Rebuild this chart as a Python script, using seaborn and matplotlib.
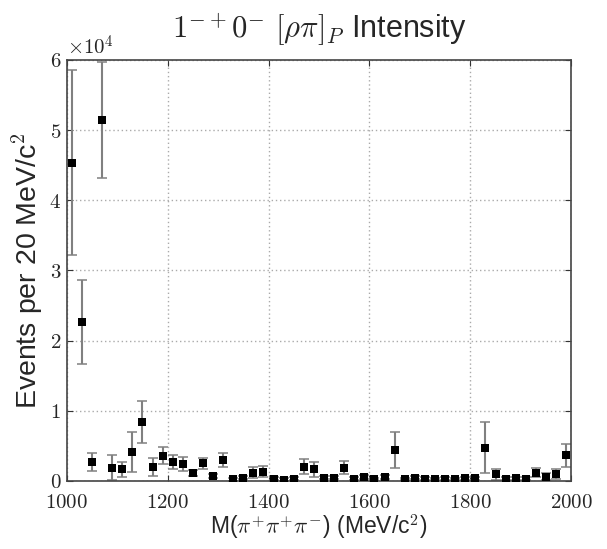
import matplotlib
matplotlib.use("Agg")
import matplotlib.pyplot as plt
import seaborn as sns
import numpy as np
import pandas as pd
from matplotlib.ticker import FuncFormatter, FixedLocator

# ---- data ----
mass = [1010, 1030, 1050, 1070, 1090, 1110, 1130, 1150, 1170, 1190,
        1210, 1230, 1250, 1270, 1290, 1310, 1330, 1350, 1370, 1390,
        1410, 1430, 1450, 1470, 1490, 1510, 1530, 1550, 1570, 1590,
        1610, 1630, 1650, 1670, 1690, 1710, 1730, 1750, 1770, 1790,
        1810, 1830, 1850, 1870, 1890, 1910, 1930, 1950, 1970, 1990]
events = [45350, 22650, 2700, 51400, 1900, 1650, 4100, 8400, 2000, 3600,
          2700, 2400, 1100, 2500, 700, 3000, 240, 480, 1200, 1300,
          340, 200, 300, 2050, 1660, 480, 480, 1900, 330, 570,
          240, 570, 4400, 240, 480, 330, 240, 330, 240, 400,
          400, 4750, 950, 330, 400, 330, 1200, 620, 1000, 3650]
errors = [13200, 6000, 1350, 8300, 1800, 1050, 2800, 3000, 1300, 1250,
          1050, 950, 400, 800, 300, 1000, 200, 250, 800, 800,
          200, 150, 200, 1050, 1100, 250, 250, 900, 200, 250,
          150, 250, 2500, 150, 250, 200, 150, 200, 150, 200,
          200, 3600, 800, 200, 200, 200, 600, 500, 700, 1600]
x_ticks = [1000, 1200, 1400, 1600, 1800, 2000]
y_ticks = [0, 1e4, 2e4, 3e4, 4e4, 5e4, 6e4]

df = pd.DataFrame({"mass": mass, "events": events, "err": errors})

sns.set_theme(style="white")
plt.rcParams["font.family"] = ["Liberation Sans", "DejaVu Sans"]
plt.rcParams["mathtext.fontset"] = "cm"
plt.rcParams["xtick.direction"] = "in"
plt.rcParams["ytick.direction"] = "in"

fig = plt.figure(figsize=(6.07, 5.49), dpi=100)
ax = fig.add_axes([0.110, 0.124, 0.831, 0.767])

ax.errorbar(df["mass"], df["events"], yerr=df["err"], fmt="none",
            ecolor="#808080", elinewidth=1.5, capsize=3.5, capthick=1.1,
            zorder=2)
sns.scatterplot(data=df, x="mass", y="events", marker="s", s=28,
                color="black", edgecolor="black", linewidth=0, ax=ax,
                zorder=3, clip_on=True)

ax.set_xlim(1000, 2000)
ax.set_ylim(0, 6e4)
ax.xaxis.set_major_locator(FixedLocator(x_ticks))
ax.yaxis.set_major_locator(FixedLocator(y_ticks))
ax.xaxis.set_major_formatter(FuncFormatter(lambda v, p: r"$%d$" % v))
ax.yaxis.set_major_formatter(FuncFormatter(lambda v, p: r"$%d$" % round(v / 1e4)))
ax.tick_params(axis="both", which="major", labelsize=15, length=4, width=0.8,
               color="#333333", top=True, right=True, bottom=True, left=True)
ax.tick_params(axis="x", pad=9)
ax.tick_params(axis="y", pad=4)
ax.grid(True, linestyle=(0, (1, 2)), color="#aaaaaa", linewidth=1.0)
for s in ax.spines.values():
    s.set_color("#444444")
    s.set_linewidth(1.2)

ax.set_xlabel(r"M($\pi^{+}\pi^{+}\pi^{-}$) (MeV/c$^{2}$)", fontsize=16.5, labelpad=0)
ax.set_ylabel(r"Events per 20 MeV/c$^{2}$", fontsize=20.5)
ax.yaxis.set_label_coords(-0.043, 0.5)
ax.set_title(r"$1^{-+}0^{-}\ [\rho\pi]_P$ Intensity", fontsize=22, pad=16)
ax.text(0.0, 1.003, r"$\times10^{4}$", transform=ax.transAxes, fontsize=15,
        ha="left", va="bottom")

fig.savefig("out.png", dpi=100, facecolor="white")
